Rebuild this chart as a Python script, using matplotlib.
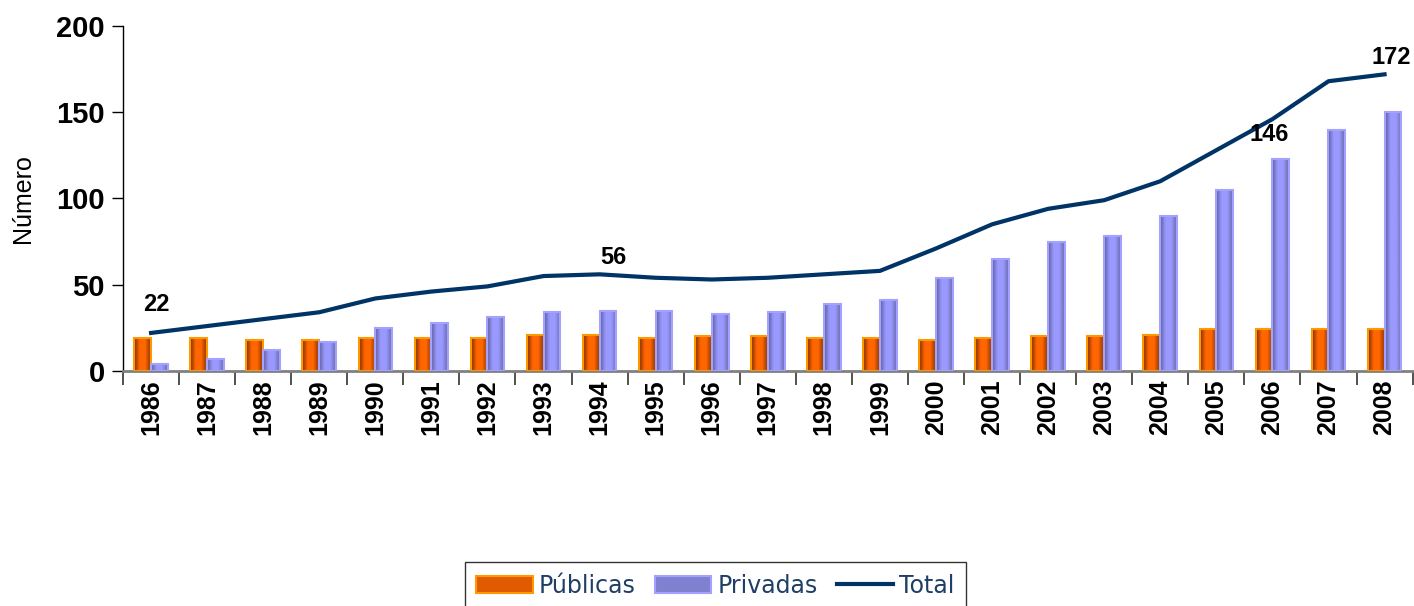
import numpy as np
import matplotlib
matplotlib.use('Agg')
import matplotlib.pyplot as plt
from matplotlib.colors import LinearSegmentedColormap
from matplotlib.patches import Patch
from matplotlib.lines import Line2D

# values
years = ['1986', '1987', '1988', '1989', '1990', '1991', '1992', '1993', '1994', '1995', '1996', '1997',
         '1998', '1999', '2000', '2001', '2002', '2003', '2004', '2005', '2006', '2007', '2008']
publicas = [19, 19, 18, 18, 19, 19, 19, 21, 21, 19, 20, 20, 19, 19, 18, 19, 20, 20, 21, 24, 24, 24, 24]
privadas = [4, 7, 12, 17, 25, 28, 31, 34, 35, 35, 33, 34, 39, 41, 54, 65, 75, 78, 90, 105, 123, 140, 150]
total = [22, 26, 30, 34, 42, 46, 49, 55, 56, 54, 53, 54, 56, 58, 71, 85, 94, 99, 110, 128, 146, 168, 172]
labelled = ['1986', '1994', '2006', '2008']
# label offsets in points (dx, dy) and vertical alignment
label_pos = {'1986': (4, 12, 'bottom'), '1994': (10, 4, 'bottom'),
             '2006': (-2, -3, 'top'), '2008': (5, 4, 'bottom')}

cmap_pub = LinearSegmentedColormap.from_list('pub', ['#7a2e00', '#ff6600', '#ff6600', '#8a3300'])
cmap_priv = LinearSegmentedColormap.from_list('priv', ['#5e5e9e', '#9999ff', '#9999ff', '#6a6aaa'])
grad = np.linspace(0, 1, 64).reshape(1, -1)

fig = plt.figure(figsize=(14.14, 6.06), dpi=100)
ax = fig.add_axes([0.087, 0.388, 0.912, 0.569])

x = np.arange(len(years))
w = 0.3
for xi, h in zip(x, publicas):
    ax.imshow(grad, extent=(xi - w, xi, 0, h), aspect='auto', cmap=cmap_pub, zorder=2)
ax.bar(x - w / 2, publicas, width=w, facecolor='none', edgecolor='#ff9900', linewidth=1.5, zorder=3)
for xi, h in zip(x, privadas):
    ax.imshow(grad, extent=(xi, xi + w, 0, h), aspect='auto', cmap=cmap_priv, zorder=2)
ax.bar(x + w / 2, privadas, width=w, facecolor='none', edgecolor='#a3a3ff', linewidth=1.5, zorder=3)

ax.plot(x, total, color='#003366', linewidth=3, zorder=4)
for yr in labelled:
    i = years.index(yr)
    dx, dy, va = label_pos[yr]
    ax.annotate(str(total[i]), (i, total[i]), xytext=(dx, dy), textcoords='offset points', ha='center', va=va,
                fontsize=17, fontweight='bold', family='Liberation Sans', zorder=5)

ax.set_xlim(-0.5, len(years) - 0.5)
ax.set_ylim(0, 200)
ax.set_yticks([0, 50, 100, 150, 200])
ax.set_yticklabels(['0', '50', '100', '150', '200'], fontsize=21, fontweight='bold', family='Liberation Sans')
ax.set_xticks(x)
ax.set_xticklabels(years, rotation=90, fontsize=18, fontweight='bold', family='Liberation Sans')
ax.tick_params(axis='x', length=0, pad=6)
ax.set_xticks(np.arange(len(years) + 1) - 0.5, minor=True)
ax.tick_params(axis='x', which='minor', length=10, color='#333333', width=1.2)
ax.tick_params(axis='y', length=8, width=1, pad=5)
ax.set_ylabel('Número', fontsize=18, family='Liberation Sans')
ax.yaxis.set_label_coords(-0.068, 0.5)

for s in ['top', 'right']:
    ax.spines[s].set_visible(False)
ax.spines['bottom'].set_color('#808080')
ax.spines['bottom'].set_linewidth(2)
ax.spines['left'].set_color('black')
ax.spines['left'].set_linewidth(1)

handles = [Patch(facecolor='#e05a00', edgecolor='#ff9900', linewidth=1.5),
           Patch(facecolor='#8080d0', edgecolor='#a3a3ff', linewidth=1.5),
           Line2D([0], [0], color='#003366', linewidth=3)]
leg = fig.legend(handles, ['Públicas', 'Privadas', 'Total'], loc='upper center',
                 bbox_to_anchor=(0.506, 1 - 562 / 606), ncol=3, frameon=True, fancybox=False,
                 edgecolor='black', handlelength=2.4, handleheight=0.75, handletextpad=0.25,
                 columnspacing=0.8, borderpad=0.5, borderaxespad=0,
                 prop={'family': 'DejaVu Sans', 'size': 17})
leg.get_frame().set_linewidth(1)
for t in leg.get_texts():
    t.set_color('#1f3f66')

fig.savefig('out.png', dpi=100)
